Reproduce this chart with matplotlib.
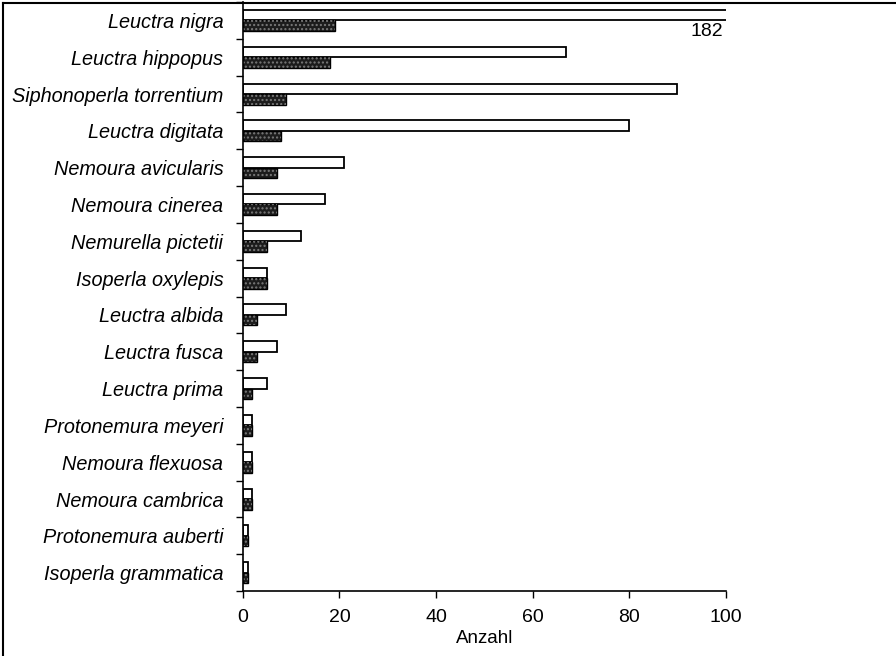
import matplotlib
matplotlib.use("Agg")
from matplotlib import pyplot as plt
from matplotlib.lines import Line2D
import numpy as np

species = [
    "Leuctra nigra", "Leuctra hippopus", "Siphonoperla torrentium",
    "Leuctra digitata", "Nemoura avicularis", "Nemoura cinerea",
    "Nemurella pictetii", "Isoperla oxylepis", "Leuctra albida",
    "Leuctra fusca", "Leuctra prima", "Protonemura meyeri",
    "Nemoura flexuosa", "Nemoura cambrica", "Protonemura auberti",
    "Isoperla grammatica",
]
# open bars (upper) and stippled bars (lower)
count_open = [182, 67, 90, 80, 21, 17, 12, 5, 9, 7, 5, 2, 2, 2, 1, 1]
count_dark = [19, 18, 9, 8, 7, 7, 5, 5, 3, 3, 2, 2, 2, 2, 1, 1]

plt.rcParams["font.family"] = ["Liberation Sans", "DejaVu Sans"]

fig = plt.figure(figsize=(8.96, 6.56), dpi=100)
ax = fig.add_axes([0.271, 0.099, 0.539, 0.898])

pos = np.arange(len(species))
h = 0.285
ax.barh(pos - h / 2, count_open, height=h, color="white",
        edgecolor="black", linewidth=1.3, clip_on=True)
ax.barh(pos + h / 2, count_dark, height=h, color="#1c1c1c",
        edgecolor="black", linewidth=1.0)
# stipple on the dark bars
ax.barh(pos + h / 2, count_dark, height=h, fill=False,
        edgecolor="#7a7a7a", hatch="....", linewidth=0)

ax.set_xlim(0, 100)
ax.set_ylim(len(species) - 0.5, -0.5)
ax.set_xticks([0, 20, 40, 60, 80, 100])
ax.set_yticks(pos)
ax.set_yticklabels(species, fontstyle="italic", fontsize=14.3)
ax.set_yticks(np.arange(-0.5, len(species)), minor=True)
ax.tick_params(axis="y", which="major", length=0, pad=14)
ax.tick_params(axis="y", which="minor", length=5, width=1, direction="out")
ax.tick_params(axis="x", length=5, width=1, direction="out", labelsize=14, pad=8)

for side in ["top", "right"]:
    ax.spines[side].set_visible(False)
for side in ["left", "bottom"]:
    ax.spines[side].set_linewidth(1.2)

ax.text(99.4, 0.3, str(count_open[0]), ha="right", va="center", fontsize=14)
ax.set_xlabel("Anzahl", fontsize=13.5, labelpad=3)

# page frame along top and left edges
fig.add_artist(Line2D([0.003, 1.0], [0.996, 0.996], color="black", lw=1.5))
fig.add_artist(Line2D([0.003, 0.003], [0.0, 0.996], color="black", lw=1.5))

fig.savefig("out.png", dpi=100)
